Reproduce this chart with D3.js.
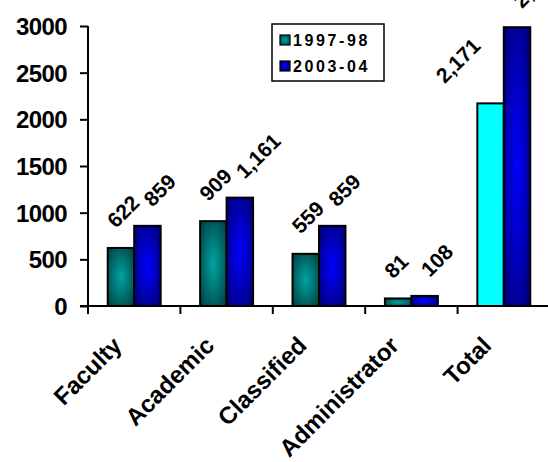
<!DOCTYPE html>
<html><head><meta charset="utf-8">
<script src="https://cdn.jsdelivr.net/npm/d3@7"></script>
<style>
html,body{margin:0;padding:0;background:#fff;}
svg{display:block;font-family:"Liberation Sans",Arial,sans-serif;font-weight:bold;}
</style></head>
<body>
<svg id="chart" width="548" height="462"></svg>
<script>
const categories = ["Faculty","Academic","Classified","Administrator","Total"];
const seriesNames = ["1997-98","2003-04"];
const values1997 = [622, 909, 559, 81, 2171];
const values2003 = [859, 1161, 859, 108, 2987];
const yTicks = [0, 500, 1000, 1500, 2000, 2500, 3000];

const svg = d3.select("#chart");
const defs = svg.append("defs");
function grad(id, edge, center){
  const g = defs.append("radialGradient").attr("id", id)
    .attr("cx","50%").attr("cy","50%").attr("r","70%");
  g.append("stop").attr("offset","0%").attr("stop-color", center);
  g.append("stop").attr("offset","100%").attr("stop-color", edge);
}
grad("gTeal", "#003c3c", "#00a3a3");
grad("gBlue", "#000070", "#0000ff");

const x0 = d3.scaleBand().domain(categories).range([88, 550]).padding(0);
const x1 = d3.scaleBand().domain(seriesNames).range([0, x0.bandwidth()]).paddingInner(0).paddingOuter(0.745);
const y = d3.scaleLinear().domain([0, 3000]).range([306, 26]);

const rows = categories.map((c, i) => ({cat: c, vals: [
  {s: seriesNames[0], v: values1997[i]},
  {s: seriesNames[1], v: values2003[i]}
]}));

function fillFor(cat, s){
  if (s === seriesNames[0]) return cat === "Total" ? "#00ffff" : "url(#gTeal)";
  return "url(#gBlue)";
}

// bars
const g = svg.append("g");
rows.forEach(r => {
  r.vals.forEach(d => {
    g.append("rect")
      .attr("x", x0(r.cat) + x1(d.s))
      .attr("y", y(d.v))
      .attr("width", x1.bandwidth())
      .attr("height", y(0) - y(d.v))
      .attr("fill", fillFor(r.cat, d.s))
      .attr("stroke", "#000").attr("stroke-width", 2);
  });
});

// data labels (rotated, start-anchored above each bar; moved left if they would run into the neighbour bar)
const fmt = d3.format(",");
const C = 0.7071;
rows.forEach(r => {
  r.vals.forEach((d, j) => {
    const cx = x0(r.cat) + x1(d.s) + x1.bandwidth()/2;
    const t = g.append("text").text(fmt(d.v))
      .attr("font-size", 21).attr("text-anchor","start");
    const L = t.node().getComputedTextLength();
    let sx = j === 0 ? cx - 5 : cx + 5;
    let sy = y(d.v) - (j === 0 ? 19 : 18);
    if (j === 0) {
      const nb = r.vals[1];
      const nbLeft = x0(r.cat) + x1(nb.s);
      const nbTop = y(nb.v);
      const right = sx + L * C;
      const yAtBar = sy - (nbLeft - sx) + 4;
      if (right > nbLeft && yAtBar > nbTop) {
        sx -= right - (nbLeft - 22);
      }
    }
    t.attr("transform", `translate(${sx},${sy}) rotate(-45)`);
  });
});

// y axis
const yAxis = d3.axisLeft(y).tickValues(yTicks).tickSize(8).tickPadding(13).tickFormat(d3.format("d"));
const ya = svg.append("g").attr("transform","translate(88,0)").call(yAxis);
ya.select(".domain").attr("stroke","#000").attr("stroke-width",2).attr("d","M0,26V306");
ya.selectAll(".tick line").attr("stroke","#000").attr("stroke-width",2);
ya.selectAll(".tick text").attr("font-size",24).attr("font-family","Liberation Sans, Arial, sans-serif")
  .attr("font-weight","bold").attr("fill","#000").attr("dy","0.36em").attr("letter-spacing","-0.6");

// x axis line
svg.append("line").attr("x1",80).attr("x2",548).attr("y1",y(0)).attr("y2",y(0))
  .attr("stroke","#000").attr("stroke-width",2);
// boundary ticks
const bounds = categories.map(c => x0(c)).concat([x0.range()[1]]);
svg.selectAll("line.xt").data(bounds).enter().append("line").attr("class","xt")
  .attr("x1", d => d).attr("x2", d => d).attr("y1", y(0)).attr("y2", y(0) + 8)
  .attr("stroke","#000").attr("stroke-width",2);

// category labels
const xAxis = d3.axisBottom(x0).tickSize(0).tickPadding(0);
const xa = svg.append("g").call(xAxis);
xa.select(".domain").remove();
xa.selectAll(".tick").attr("transform", d => `translate(${x0(d) + x0.bandwidth()/2},0)`);
xa.selectAll(".tick text")
  .attr("font-size",24).attr("font-family","Liberation Sans, Arial, sans-serif")
  .attr("font-weight","bold").attr("fill","#000")
  .attr("text-anchor","end").attr("dy","0")
  .attr("y", 0)
  .attr("transform","translate(-11,347) rotate(-45)");

// legend
const lg = svg.append("g");
lg.append("rect").attr("x",272).attr("y",24).attr("width",112).attr("height",57)
  .attr("fill","#fff").attr("stroke","#000").attr("stroke-width",1.5);
seriesNames.forEach((s, i) => {
  lg.append("rect").attr("x",280).attr("y",35 + i*26).attr("width",10).attr("height",10)
    .attr("fill", i === 0 ? "url(#gTeal)" : "url(#gBlue)").attr("stroke","#000").attr("stroke-width",1.2);
  lg.append("text").attr("x",293).attr("y",46 + i*26).text(s)
    .attr("font-size",16).attr("letter-spacing","2.6").attr("fill","#000");
});
</script>
</body></html>
